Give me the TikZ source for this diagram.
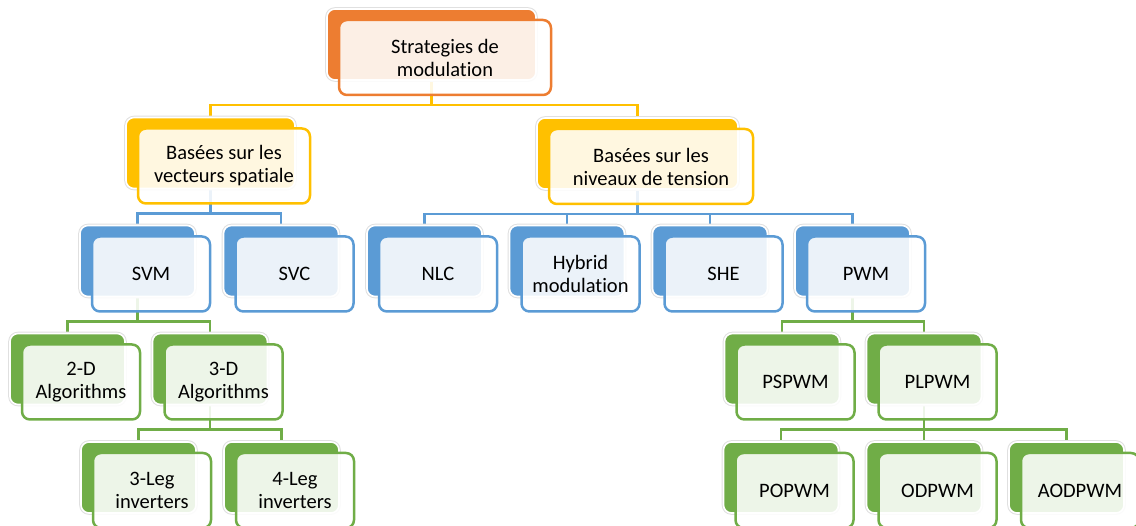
\documentclass[tikz,border=0pt]{standalone}
\usepackage{fontspec}
\setmainfont{Carlito}[Ligatures=NoCommon]
\usetikzlibrary{calc,backgrounds}
\definecolor{orangeA}{HTML}{ED7D31}
\definecolor{goldA}{HTML}{FFC000}
\definecolor{blueA}{HTML}{5B9BD5}
\definecolor{greenA}{HTML}{70AD47}
\tikzset{
  backbox/.style={rectangle, rounded corners=8pt, inner sep=0pt, outer sep=0pt,
    minimum height=71pt, fill=#1,
    preaction={draw=black!12, line width=3.6pt},
    draw=white, line width=1.6pt},
  frontbox/.style={rectangle, rounded corners=8pt, inner sep=0pt, outer sep=0pt,
    minimum height=75pt, draw=#1, line width=2.5pt,
    fill=white, fill opacity=0.88, text opacity=1, text=black,
    align=center, font=\fontsize{20.5}{23}\selectfont},
  conn/.style={draw=#1, line width=2.6pt},
}
% #1 name, #2 centre x, #3 top y, #4 width, #5 colour, #6 label
\newcommand\smartnode[6]{%
  \node[backbox=#5, minimum width=#4pt, anchor=north] (#1) at (#2,#3) {};
  \node[frontbox=#5, minimum width={(#4+3)*1pt}, anchor=north west]
    (#1-f) at ($(#1.north west)+(12,11)$) {#6};
}
\begin{document}
\begin{tikzpicture}[x=1pt,y=-1pt]
\useasboundingbox (0,0) rectangle (1136,526);

% level 1
\smartnode{root}{431.5}{9}{209}{orangeA}{Strategies de\\modulation}
% level 2
\smartnode{vec}{210.5}{117.5}{169}{goldA}{Basées sur les\\vecteurs spatiale}
\smartnode{niv}{637.5}{118}{201}{goldA}{Basées sur les\\niveaux de tension}
% level 3
\smartnode{svm}{137.5}{225.5}{115}{blueA}{SVM}
\smartnode{svc}{281}{225.5}{115}{blueA}{SVC}
\smartnode{nlc}{424.5}{225.5}{115}{blueA}{NLC}
\smartnode{hyb}{567}{225.5}{115}{blueA}{Hybrid\\modulation}
\smartnode{she}{710}{225.5}{115}{blueA}{SHE}
\smartnode{pwm}{852.5}{225.5}{115}{blueA}{PWM}
% level 4
\smartnode{twod}{67.5}{333.5}{115}{greenA}{2-D\\Algorithms}
\smartnode{threed}{210}{333.5}{115}{greenA}{3-D\\Algorithms}
\smartnode{pspwm}{782}{333.5}{115}{greenA}{PSPWM}
\smartnode{plpwm}{924}{333.5}{115}{greenA}{PLPWM}
% level 5
\smartnode{legthree}{138.5}{442}{115}{greenA}{3-Leg\\inverters}
\smartnode{legfour}{281.5}{442}{115}{greenA}{4-Leg\\inverters}
\smartnode{popwm}{781}{442}{115}{greenA}{POPWM}
\smartnode{odpwm}{924}{442}{115}{greenA}{ODPWM}
\smartnode{aodpwm}{1066.5}{442}{115}{greenA}{AODPWM}

% elbow connectors behind the boxes
\begin{scope}[on background layer]
  \foreach \p/\c/\col in {root/vec/goldA, root/niv/goldA,
      vec/svm/blueA, vec/svc/blueA,
      niv/nlc/blueA, niv/hyb/blueA, niv/she/blueA, niv/pwm/blueA,
      svm/twod/greenA, svm/threed/greenA,
      pwm/pspwm/greenA, pwm/plpwm/greenA,
      threed/legthree/greenA, threed/legfour/greenA,
      plpwm/popwm/greenA, plpwm/odpwm/greenA, plpwm/aodpwm/greenA}
    \draw[conn=\col] (\p.south) -- ++(0,25) -| (\c.north);
\end{scope}
\end{tikzpicture}
\end{document}
